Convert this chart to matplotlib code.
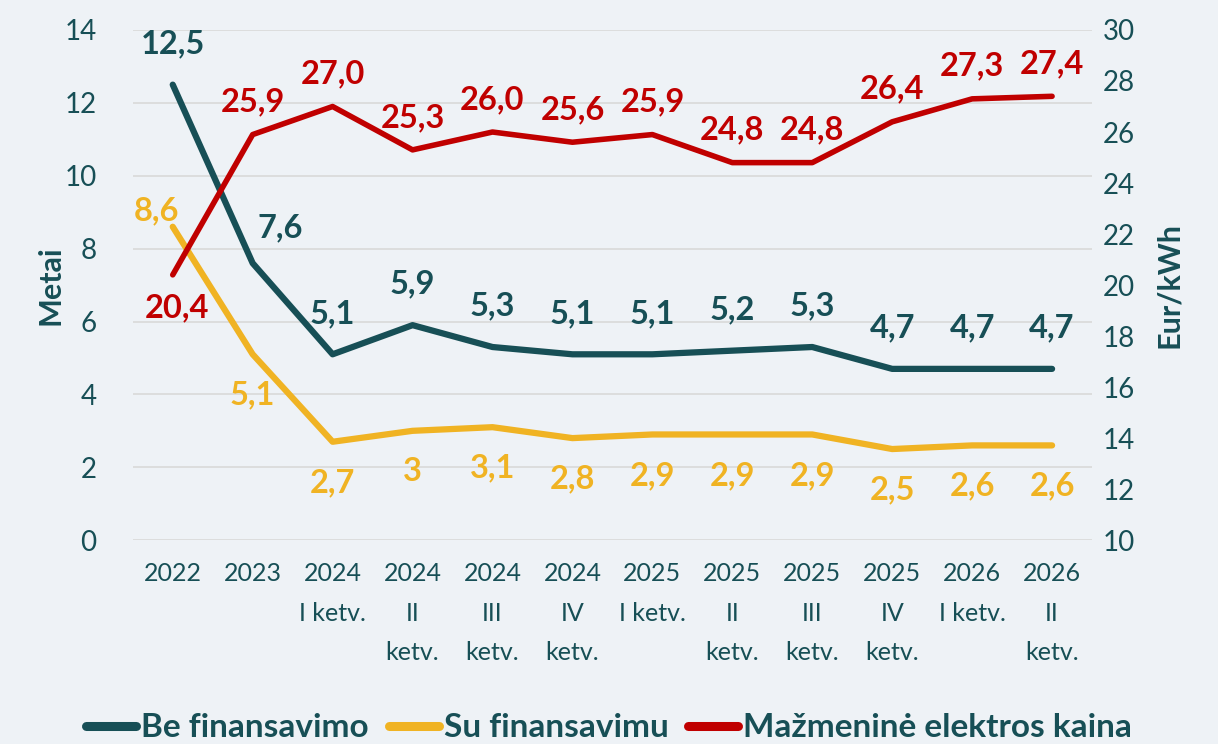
import matplotlib
matplotlib.use("Agg")
import matplotlib.pyplot as plt
from matplotlib.lines import Line2D

plt.rcParams['font.family'] = ['Lato', 'DejaVu Sans']

categories = ["2022", "2023", "2024\nI ketv.", "2024\nII\nketv.", "2024\nIII\nketv.",
              "2024\nIV\nketv.", "2025\nI ketv.", "2025\nII\nketv.", "2025\nIII\nketv.",
              "2025\nIV\nketv.", "2026\nI ketv.", "2026\nII\nketv."]
be_fin = [12.5, 7.6, 5.1, 5.9, 5.3, 5.1, 5.1, 5.2, 5.3, 4.7, 4.7, 4.7]
su_fin = [8.6, 5.1, 2.7, 3.0, 3.1, 2.8, 2.9, 2.9, 2.9, 2.5, 2.6, 2.6]
kaina = [20.4, 25.9, 27.0, 25.3, 26.0, 25.6, 25.9, 24.8, 24.8, 26.4, 27.3, 27.4]
su_labels = ["8,6", "5,1", "2,7", "3", "3,1", "2,8", "2,9", "2,9", "2,9", "2,5", "2,6", "2,6"]

TEAL = "#174F56"
YEL = "#F0B323"
RED = "#C00000"
BG = "#EEF2F6"

fig = plt.figure(figsize=(12.18, 7.44), dpi=100, facecolor=BG)
ax = fig.add_axes([0.109, 0.274, 0.7876, 0.6857])
ax.set_facecolor(BG)
ax2 = ax.twinx()

x = list(range(len(categories)))
ax.plot(x, be_fin, color=TEAL, lw=4.5, solid_capstyle='round', zorder=3)
ax.plot(x, su_fin, color=YEL, lw=4.5, solid_capstyle='round', zorder=3)
ax2.plot(x, kaina, color=RED, lw=4, solid_capstyle='round', zorder=3)

ax.set_xlim(-0.5, len(categories) - 0.5)
ax.set_ylim(0, 14)
ax2.set_ylim(10, 30)
ax.set_yticks(range(0, 15, 2))
ax2.set_yticks(range(10, 31, 2))
ax.yaxis.grid(True, color="#D9D9D9", lw=1.2)
ax.set_axisbelow(True)
for a in (ax, ax2):
    for s in a.spines.values():
        s.set_visible(False)
    a.tick_params(length=0, colors=TEAL, labelsize=20)
ax.tick_params(axis='y', pad=26)
ax2.tick_params(axis='y', pad=8)
ax.set_xticks(x)
ax.set_xticklabels(categories, fontsize=18, color=TEAL, linespacing=1.85, va='top')
ax.tick_params(axis='x', pad=16)
ax.set_ylabel("Metai", color=TEAL, fontsize=22, fontweight='bold', labelpad=0)
ax2.set_ylabel("Eur/kWh", color=TEAL, fontsize=22, fontweight='bold', labelpad=14)

fmt = lambda v: f"{v:.1f}".replace(".", ",")

# Be finansavimo labels
for i, v in enumerate(be_fin):
    dx, dy = 0, 19
    if i == 1:
        dx, dy = 20, 15
    ax.annotate(fmt(v), (i, v), xytext=(dx, dy), textcoords='offset points',
                ha='center', va='bottom', color=TEAL, fontsize=23.5, fontweight='bold')
# Su finansavimu labels
for i, v in enumerate(su_fin):
    dx, dy, va = 0, -19, 'top'
    if i == 0:
        dx, dy, va = -12, 1, 'bottom'
    ax.annotate(su_labels[i], (i, v), xytext=(dx, dy), textcoords='offset points',
                ha='center', va=va, color=YEL, fontsize=23.5, fontweight='bold')
# Kaina labels
for i, v in enumerate(kaina):
    dx, dy, va = 0, 13, 'bottom'
    if i == 0:
        dx, dy, va = 3, -13, 'top'
    ax2.annotate(fmt(v), (i, v), xytext=(dx, dy), textcoords='offset points',
                 ha='center', va=va, color=RED, fontsize=23.5, fontweight='bold')

handles = [Line2D([], [], color=TEAL, lw=6.5, solid_capstyle='round'),
           Line2D([], [], color=YEL, lw=6.5, solid_capstyle='round'),
           Line2D([], [], color=RED, lw=6.5, solid_capstyle='round')]
leg = fig.legend(handles, ["Be finansavimo", "Su finansavimu", "Mažmeninė elektros kaina"],
                 loc='lower center', bbox_to_anchor=(0.5, -0.038), ncol=3, frameon=False,
                 prop={'size': 24, 'weight': 'bold'}, handlelength=1.5, handletextpad=0.15,
                 columnspacing=0.6)
for t in leg.get_texts():
    t.set_color(TEAL)

fig.savefig("out.png", dpi=100, facecolor=BG)
